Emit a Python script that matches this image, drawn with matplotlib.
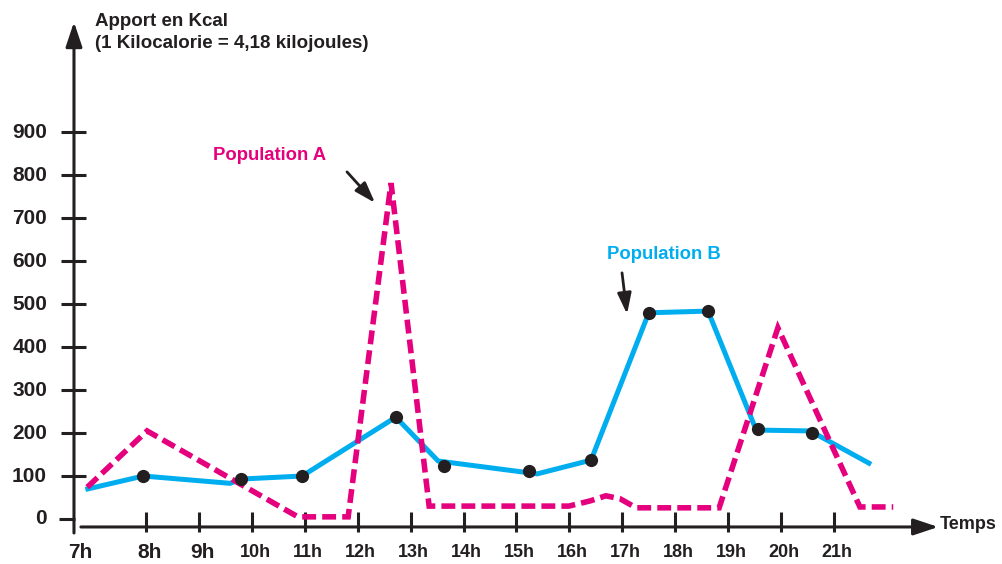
import matplotlib
matplotlib.use("Agg")
import matplotlib.pyplot as plt

plt.rcParams["font.family"] = ["Liberation Sans", "DejaVu Sans"]
plt.rcParams["font.weight"] = "bold"

# ─── Data (hours of the day / kcal) ───────────────────────────────────────────
hours = [8, 9, 10, 11, 12, 13, 14, 15, 16, 17, 18, 19, 20, 21]
hour_labels = ["8h", "9h", "10h", "11h", "12h", "13h", "14h",
               "15h", "16h", "17h", "18h", "19h", "20h", "21h"]
kcal_ticks = [0, 100, 200, 300, 400, 500, 600, 700, 800, 900]

# Population A: dashed magenta curve
pop_a_t = [6.89, 8.02, 10.87, 11.82, 12.63, 13.35, 15.99, 16.39, 16.69,
           16.96, 17.26, 18.83, 19.94, 21.49, 22.12]
pop_a_kcal = [74, 205, 5, 5, 782, 30, 30, 42, 54, 47, 26, 26, 445, 28, 28]

# Population B: solid cyan curve and its measured points
pop_b_t = [6.90, 7.95, 9.59, 9.80, 10.95, 12.72, 13.52, 15.39, 16.41,
           17.50, 18.62, 19.53, 20.55, 21.66]
pop_b_kcal = [70, 100, 83, 93, 100, 237, 135, 105, 137, 480, 484, 207, 205, 130]
pop_b_dot_t = [7.95, 9.80, 10.95, 12.72, 13.63, 15.24, 16.41, 17.50, 18.62,
               19.56, 20.58]
pop_b_dot_kcal = [100, 93, 100, 237, 123, 112, 137, 480, 484, 210, 200]

MAGENTA = "#e5007d"
CYAN = "#00aeef"
INK = "#231f20"

# ─── Figure ───────────────────────────────────────────────────────────────────
fig = plt.figure(figsize=(10.03, 5.64), dpi=100)
ax = fig.add_axes([0, 0, 1, 1])
ax.set_xlim(5.241, 24.194)
ax.set_ylim(-104.8, 1208.2)
ax.axis("off")

# axes drawn by hand: y arrow, x arrow
y_axis_t = 6.639
x_axis_k = -18.6
arrow = dict(arrowstyle="-|>,head_length=0.75,head_width=0.25",
             mutation_scale=20, color=INK, lw=2.2, shrinkA=0, shrinkB=0)
ax.annotate("", xy=(y_axis_t, 1157), xytext=(y_axis_t, -32.6),
            arrowprops=arrow)
ax.annotate("", xy=(22.97, x_axis_k), xytext=(6.77, x_axis_k),
            arrowprops=arrow)

# tick marks
ax.vlines(hours, -30.3, 16.3, color=INK, lw=2.2)
ax.hlines(kcal_ticks[1:], 6.394, 6.866, color=INK, lw=2.2)
ax.hlines(0, 6.36, 6.66, color=INK, lw=2.2)

# tick labels
for h, lab in zip(hours, hour_labels):
    size = 15 if h < 10 else 13
    ax.text(h + 0.06, -79, lab, ha="center", va="center",
            fontsize=size, color=INK)
ax.text(6.753, -79, "7h", ha="center", va="center", fontsize=15, color=INK)
for k in kcal_ticks:
    ax.text(6.13, k, str(k), ha="right", va="center", fontsize=15, color=INK)

ax.text(7.036, 1159, "Apport en Kcal", ha="left", va="center",
        fontsize=13.5, color=INK)
ax.text(7.036, 1108, "(1 Kilocalorie = 4,18 kilojoules)", ha="left",
        va="center", fontsize=13.5, color=INK)
ax.text(23.0, -14, "Temps", ha="left", va="center", fontsize=13, color=INK)

# ─── Curves ───────────────────────────────────────────────────────────────────
ax.plot(pop_b_t, pop_b_kcal, color=CYAN, lw=3.6,
        solid_joinstyle="miter", zorder=3)
ax.plot(pop_a_t, pop_a_kcal, color=MAGENTA, lw=4,
        linestyle=(0, (2.5, 1.1)), dash_capstyle="butt",
        dash_joinstyle="miter", zorder=4)
ax.plot(pop_b_dot_t, pop_b_dot_kcal, "o", color=INK, ms=9.5,
        markeredgewidth=0, zorder=5)

# ─── Series labels ────────────────────────────────────────────────────────────
pointer = dict(arrowstyle="-|>,head_length=0.9,head_width=0.3",
               mutation_scale=14, color=INK, lw=2, shrinkA=0, shrinkB=0)
ax.text(10.343, 847, "Population A", ha="center", va="center",
        fontsize=13.3, color=MAGENTA)
ax.annotate("", xy=(12.327, 736), xytext=(11.798, 808), arrowprops=pointer)
ax.text(17.79, 615, "Population B", ha="center", va="center",
        fontsize=13.3, color=CYAN)
ax.annotate("", xy=(17.09, 477), xytext=(16.995, 573), arrowprops=pointer)

fig.savefig("out.png", dpi=100, facecolor="white")
